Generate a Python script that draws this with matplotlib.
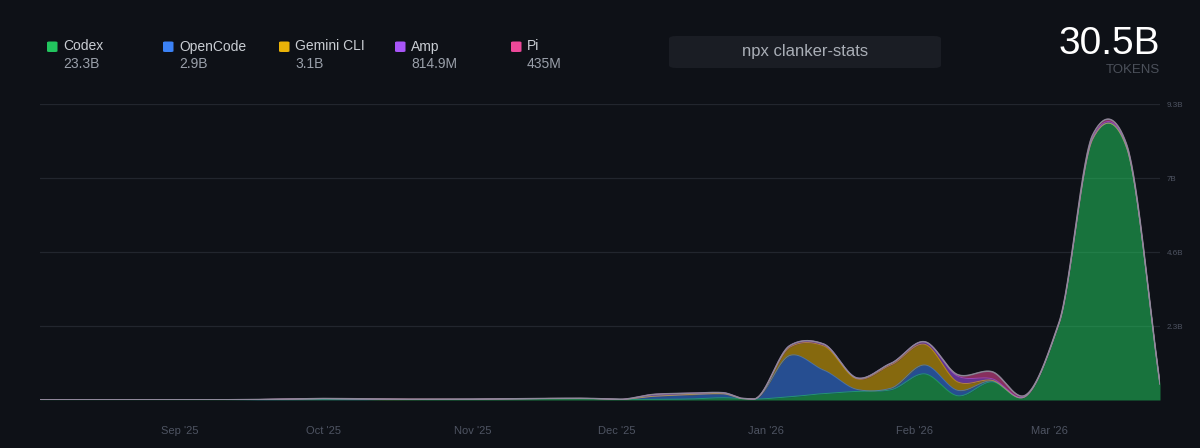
import numpy as np
import pandas as pd
import matplotlib
matplotlib.use("Agg")
import matplotlib.pyplot as plt
import matplotlib.dates as mdates
from matplotlib.patches import FancyBboxPatch

plt.rcParams['font.family'] = ['Liberation Sans', 'DejaVu Sans']

# ---------------- data (billions of tokens per week) ----------------
weeks = pd.DatetimeIndex(['2025-08-03']).append(
    pd.date_range('2025-08-05', '2026-03-24', freq='7D'))

series_names = ['Codex', 'OpenCode', 'Gemini CLI', 'Amp', 'Pi']
series_totals = ['23.3B', '2.9B', '3.1B', '814.9M', '435M']
total_label = '30.5B'

codex = [0.004, 0.004, 0.004, 0.004, 0.004, 0.005, 0.006, 0.008, 0.01, 0.012,
         0.01, 0.012, 0.015, 0.02, 0.03, 0.04, 0.05, 0.05, 0.02, 0.02,
         0.03, 0.07, 0.03, 0.10, 0.20, 0.27, 0.32, 0.82, 0.13, 0.57,
         0.11, 2.4, 8.2, 7.95, 0.5]
opencode = [0, 0, 0, 0, 0, 0, 0, 0.005, 0.02, 0.03,
            0.01, 0, 0, 0, 0, 0, 0, 0, 0, 0.10,
            0.13, 0.12, 0.02, 1.30, 0.74, 0.06, 0.05, 0.28, 0.17, 0.03,
            0, 0, 0, 0, 0]
gemini = [0, 0, 0, 0, 0, 0, 0, 0, 0, 0.005,
          0.02, 0.015, 0.01, 0, 0, 0, 0, 0, 0, 0,
          0.01, 0.01, 0, 0.26, 0.76, 0.33, 0.73, 0.65, 0.26, 0.02,
          0, 0, 0, 0, 0]
amp = [0, 0, 0, 0, 0, 0, 0, 0, 0, 0,
       0, 0, 0, 0, 0, 0, 0, 0, 0, 0.06,
       0.04, 0.03, 0, 0.05, 0.06, 0.03, 0.05, 0.08, 0.18, 0.05,
       0.01, 0.02, 0.05, 0.04, 0]
pi = [0, 0, 0, 0, 0, 0, 0, 0, 0, 0,
      0, 0, 0, 0, 0, 0, 0, 0, 0, 0,
      0, 0, 0, 0, 0, 0, 0, 0, 0.05, 0.22,
      0.03, 0.02, 0.08, 0.06, 0.01]

y_max = 9.3
ytick_fracs = [0.25, 0.5, 0.75, 1.0]
ytick_labels = ['2.3B', '4.6B', '7B', '9.3B']

month_ticks = pd.to_datetime(['2025-09-01', '2025-10-01', '2025-11-01', '2025-12-01',
                              '2026-01-01', '2026-02-01', '2026-03-01'])
month_labels = ["Sep '25", "Oct '25", "Nov '25", "Dec '25", "Jan '26", "Feb '26", "Mar '26"]

# ---------------- style ----------------
BG = '#0e1117'
line_colors = ['#22c55e', '#3b82f6', '#eab308', '#a855f7', '#ec4899']
fill_alpha = 0.55

W, H = 1200, 448
fig = plt.figure(figsize=(W / 100, H / 100), dpi=100, facecolor=BG)

def fx(px):
    return px / W

def fy(py):
    return 1 - py / H

# axes: x 40..1160, y 104..400 px
ax = fig.add_axes([fx(40), fy(400), fx(1160) - fx(40), fy(104) - fy(400)])
ax.set_facecolor(BG)

# smooth curve through the weekly points (cardinal spline)
def smooth(xk, yk, xs, c=0.75):
    xk = np.asarray(xk, float)
    yk = np.asarray(yk, float)
    n = len(xk)
    m = np.zeros(n)
    m[1:-1] = c * (yk[2:] - yk[:-2]) / (xk[2:] - xk[:-2])
    m[0] = (yk[1] - yk[0]) / (xk[1] - xk[0])
    m[-1] = (yk[-1] - yk[-2]) / (xk[-1] - xk[-2])
    idx = np.clip(np.searchsorted(xk, xs, side='right') - 1, 0, n - 2)
    h = xk[idx + 1] - xk[idx]
    t = (xs - xk[idx]) / h
    h00 = 2 * t**3 - 3 * t**2 + 1
    h10 = t**3 - 2 * t**2 + t
    h01 = -2 * t**3 + 3 * t**2
    h11 = t**3 - t**2
    v = h00 * yk[idx] + h10 * h * m[idx] + h01 * yk[idx + 1] + h11 * h * m[idx + 1]
    return np.maximum(v, 0)

xk = mdates.date2num(weeks.to_pydatetime())
xs = np.linspace(xk[0], xk[-1], 3000)

all_series = [codex, opencode, gemini, amp, pi]
base = np.zeros_like(xs)
for vals, col in zip(all_series, line_colors):
    ys = smooth(xk, vals, xs)
    top = base + ys
    ax.fill_between(xs, base, top, color=col, alpha=fill_alpha, linewidth=0, zorder=2)
    ax.plot(xs, top, color=col, lw=0.7, alpha=0.6, zorder=3)
    base = top
ax.plot(xs, base, color='#8a8f9c', lw=1.1, alpha=0.9, zorder=4)

# grid
for f in ytick_fracs:
    ax.axhline(f * y_max, color='#22262e', lw=0.9, zorder=1)

ax.set_xlim(xk[0], xk[-1])
ax.set_ylim(0, y_max)
for s in ax.spines.values():
    s.set_visible(False)

ax.set_xticks(mdates.date2num(month_ticks.to_pydatetime()))
ax.set_xticklabels(month_labels)
ax.tick_params(axis='x', length=0, pad=19, labelsize=8, labelcolor='#4e5462')
ax.yaxis.tick_right()
ax.set_yticks([f * y_max for f in ytick_fracs])
ax.set_yticklabels(ytick_labels)
ax.tick_params(axis='y', length=0, pad=5, labelsize=5.8, labelcolor='#4e5462')

# ---------------- header: legend ----------------
leg_x = [47, 163, 279, 395, 511]
for x0, name, tot, col in zip(leg_x, series_names, series_totals, line_colors):
    sq = FancyBboxPatch((fx(x0), fy(52)), fx(10.5), fy(41.5) - fy(52),
                        boxstyle='round,pad=0,rounding_size=0.002',
                        transform=fig.transFigure, facecolor=col, edgecolor='none')
    fig.patches.append(sq)
    fig.text(fx(x0 + 16), fy(46.5), name, color='#c9cdd3', fontsize=10,
             va='center', ha='left')
    fig.text(fx(x0 + 16), fy(64), tot, color='#9aa0aa', fontsize=10,
             va='center', ha='left')

# command box
box = FancyBboxPatch((fx(669), fy(68)), fx(941) - fx(669), fy(36) - fy(68),
                     boxstyle='round,pad=0,rounding_size=0.006',
                     transform=fig.transFigure, facecolor='#1a1d24', edgecolor='none')
fig.patches.append(box)
fig.text(fx(805), fy(51.5), 'npx clanker-stats', color='#a9aeb6', fontsize=12,
         ha='center', va='center')

# total
fig.text(fx(1160), fy(44), total_label, color='#ffffff', fontsize=28,
         ha='right', va='center')
fig.text(fx(1160), fy(70), 'TOKENS', color='#4b505a', fontsize=9.5,
         ha='right', va='center')

fig.savefig('out.png', dpi=100, facecolor=BG)
